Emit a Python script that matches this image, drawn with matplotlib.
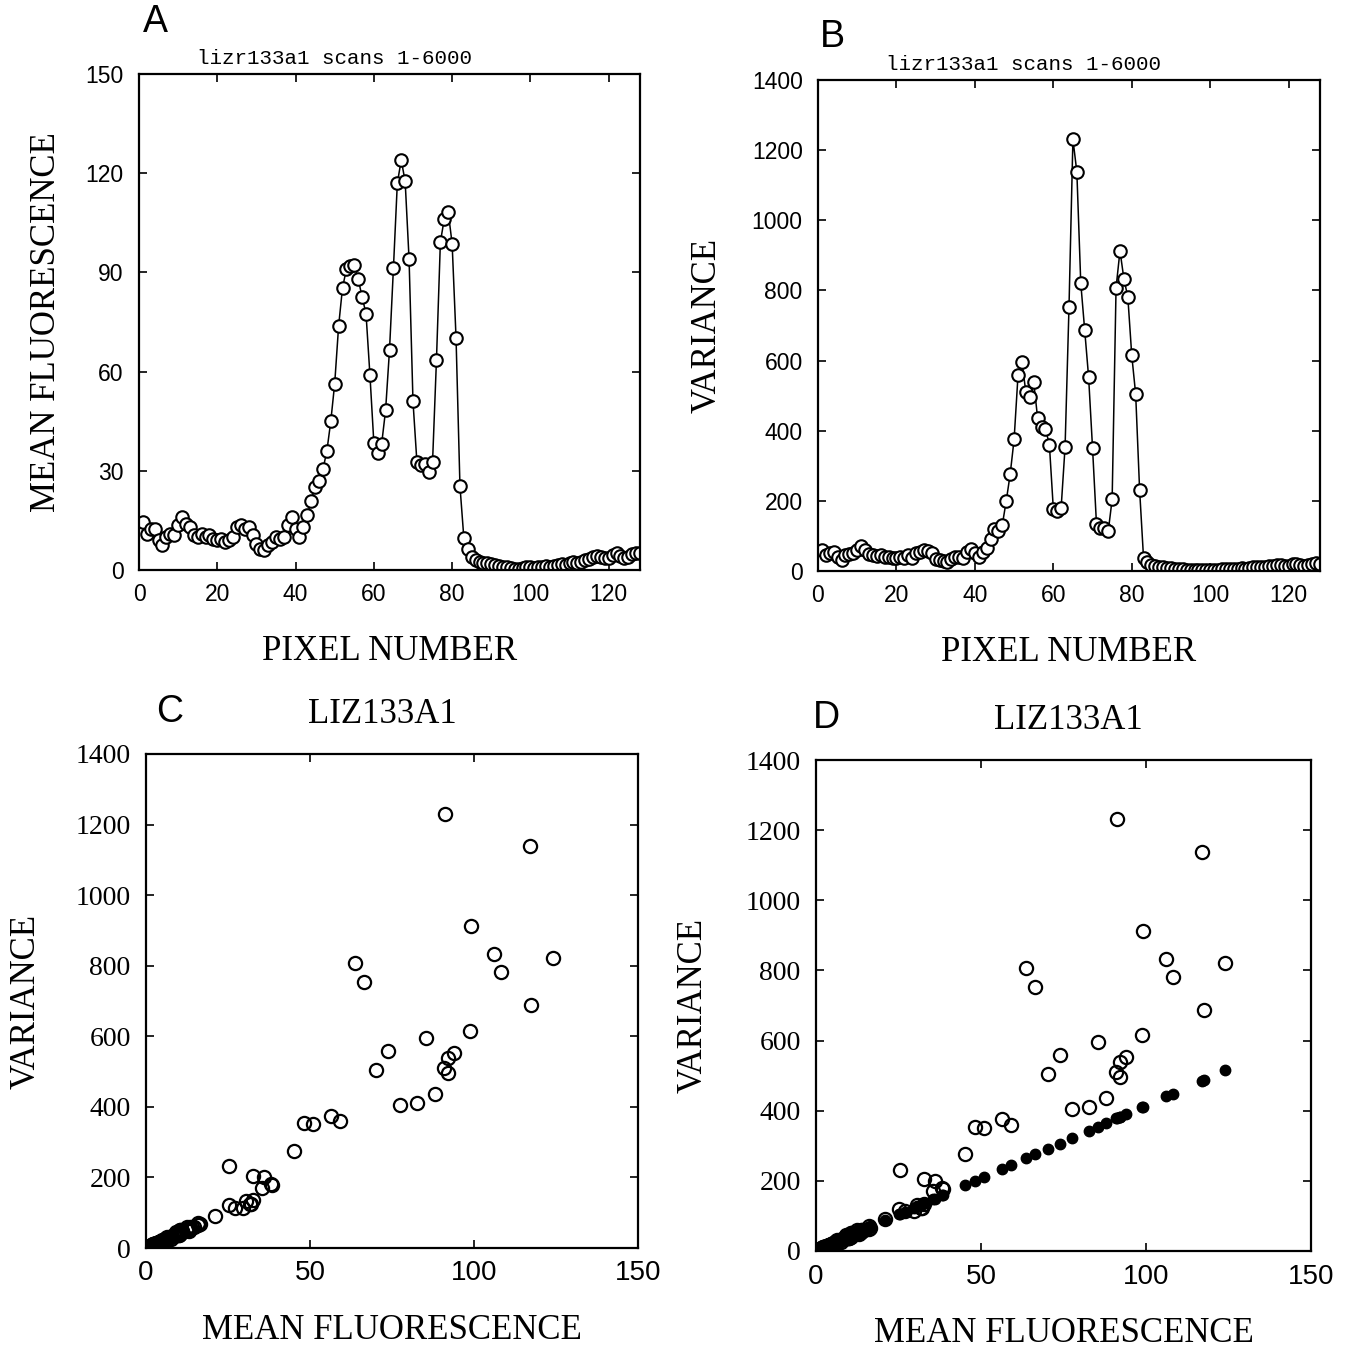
import matplotlib
matplotlib.use('Agg')
import matplotlib.pyplot as plt

# pixel index along the scan line
pixel = list(range(1, 129))

# mean fluorescence per pixel (panel A)
mean_fluor = [
    14.5, 11, 12.5, 12.5, 9, 7.5, 10, 11, 10.5, 13.5,
    16, 14, 13, 10.5, 10, 11, 10, 10.5, 9.5, 9,
    9.5, 8.5, 9, 10, 13, 13.5, 12.5, 13, 10.5, 8,
    6.5, 6, 7.5, 8.5, 10, 9.5, 10, 13.5, 16, 12.5,
    10, 13, 16.5, 21, 25.2, 27, 30.5, 36, 45, 56.4,
    73.8, 85.4, 91, 92, 92.2, 88, 82.6, 77.5, 59, 38.5,
    35.5, 38.2, 48.3, 66.5, 91.2, 117, 124, 117.5, 94, 51,
    32.7, 31.7, 32, 29.7, 32.7, 63.6, 99.2, 106.2, 108.3, 98.7,
    70.2, 25.4, 9.6, 6.3, 4, 3, 2.5, 2.2, 2, 1.8,
    1.5, 1.2, 1, 0.8, 0.5, 0.3, 0.3, 0.5, 0.8, 0.8,
    0.6, 0.8, 1, 1.2, 1, 1.2, 1.5, 1.8, 1.5, 2,
    2.5, 2.2, 2.5, 3, 3.3, 3.8, 4.2, 4, 3.5, 3.5,
    4.5, 5, 4.2, 3.5, 4, 4.8, 5, 5,
]

# variance per pixel (panel B)
variance = [
    59, 45, 50, 54, 40, 30, 45, 49, 52, 59,
    70, 59, 49, 45, 42, 45, 40, 40, 38, 38,
    40, 38, 45, 38, 50, 54, 59, 58, 50, 35,
    30, 28, 25, 35, 40, 40, 38, 55, 64, 50,
    40, 55, 67, 90, 121, 113, 132, 200, 276, 375,
    558, 596, 510, 496, 539, 436, 411, 406, 360, 178,
    170, 181, 354, 753, 1231, 1138, 821, 688, 553, 351,
    135, 124, 124, 113, 204, 808, 913, 833, 781, 615,
    504, 232, 38, 26, 18, 14, 12, 10, 9, 8,
    7, 6, 5, 4, 3, 2, 2, 3, 3, 4,
    3, 4, 5, 5, 5, 6, 7, 8, 7, 9,
    10, 10, 11, 12, 14, 15, 17, 18, 15, 15,
    19, 21, 18, 15, 17, 20, 22, 21,
]

# shot-noise variance expected for each mean (filled dots, panel D)
shot_var = [
    60, 46, 52, 52, 37, 31, 42, 46, 44, 56,
    66, 58, 54, 44, 42, 46, 42, 44, 39, 37,
    39, 35, 37, 42, 54, 56, 52, 54, 44, 33,
    27, 25, 31, 35, 42, 39, 42, 56, 66, 52,
    42, 54, 68, 87, 105, 112, 127, 149, 187, 234,
    306, 354, 378, 382, 383, 365, 343, 322, 245, 160,
    147, 159, 200, 276, 378, 486, 515, 488, 390, 212,
    136, 132, 133, 123, 136, 264, 412, 441, 449, 410,
    291, 105, 40, 26, 17, 12, 10, 9, 8, 7,
    6, 5, 4, 3, 2, 1, 1, 2, 3, 3,
    2, 3, 4, 5, 4, 5, 6, 7, 6, 8,
    10, 9, 10, 12, 14, 16, 17, 17, 15, 15,
    19, 21, 17, 15, 17, 20, 21, 21,
]

title_ab = 'lizr133a1 scans 1-6000'
title_cd = 'LIZ133A1'

SERIF = 'Liberation Serif'
SANS = 'Liberation Sans'
MONO = 'Liberation Mono'

plt.rcParams['axes.linewidth'] = 1.6
plt.rcParams['xtick.direction'] = 'in'
plt.rcParams['ytick.direction'] = 'in'
plt.rcParams['xtick.major.width'] = 1.2
plt.rcParams['ytick.major.width'] = 1.2
plt.rcParams['xtick.major.size'] = 6
plt.rcParams['ytick.major.size'] = 6

fig = plt.figure(figsize=(13.57, 13.5), dpi=100)
W, H = 1357.0, 1350.0


def make_axes(left, right, top, bottom):
    # pixel box -> figure fraction
    return fig.add_axes([left / W, 1 - bottom / H, (right - left) / W, (bottom - top) / H])


def style_ticks(ax, xsize, ysize, yfamily):
    ax.tick_params(top=True, right=True, labeltop=False, labelright=False)
    ax.tick_params(axis='x', pad=9)
    ax.tick_params(axis='y', pad=11)
    for lab in ax.get_xticklabels():
        lab.set_fontfamily(SANS)
        lab.set_fontsize(xsize)
    for lab in ax.get_yticklabels():
        lab.set_fontfamily(yfamily)
        lab.set_fontsize(ysize)


circle = dict(marker='o', markersize=9, markerfacecolor='white',
              markeredgecolor='black', markeredgewidth=1.5)

# ---- panel A: mean fluorescence vs pixel
axA = make_axes(139, 640, 74, 570)
axA.plot(pixel, mean_fluor, color='black', linewidth=1.1, **circle)
axA.set_xlim(0, 128)
axA.set_ylim(0, 150)
axA.set_xticks([0, 20, 40, 60, 80, 100, 120])
axA.set_yticks([0, 30, 60, 90, 120, 150])
style_ticks(axA, 16.5, 16.5, SANS)
axA.set_xlabel('PIXEL NUMBER', fontfamily=SERIF, fontsize=25, labelpad=21)
axA.set_ylabel('MEAN FLUORESCENCE', fontfamily=SERIF, fontsize=25, labelpad=16)
axA.set_title(title_ab, fontfamily=MONO, fontsize=15, pad=7, x=0.39)
fig.text(155 / W, 1 - 22 / H, 'A', fontfamily=SANS, fontsize=27, ha='center', va='center')

# ---- panel B: variance vs pixel
axB = make_axes(818, 1320, 80, 571)
axB.plot(pixel, variance, color='black', linewidth=1.1, **circle)
axB.set_xlim(0, 128)
axB.set_ylim(0, 1400)
axB.set_xticks([0, 20, 40, 60, 80, 100, 120])
axB.set_yticks([0, 200, 400, 600, 800, 1000, 1200, 1400])
style_ticks(axB, 16.5, 16.5, SANS)
axB.set_xlabel('PIXEL NUMBER', fontfamily=SERIF, fontsize=25, labelpad=21)
axB.set_ylabel('VARIANCE', fontfamily=SERIF, fontsize=25, labelpad=20)
axB.set_title(title_ab, fontfamily=MONO, fontsize=15, pad=7, x=0.41)
fig.text(832 / W, 1 - 37 / H, 'B', fontfamily=SANS, fontsize=27, ha='center', va='center')

# ---- panel C: variance vs mean
axC = make_axes(146, 638, 754, 1248)
axC.plot(mean_fluor, variance, linestyle='none', marker='o', markersize=9.5,
         markerfacecolor='none', markeredgecolor='black', markeredgewidth=1.6)
axC.set_xlim(0, 150)
axC.set_ylim(0, 1400)
axC.set_xticks([0, 50, 100, 150])
axC.set_yticks([0, 200, 400, 600, 800, 1000, 1200, 1400])
style_ticks(axC, 20, 20, SERIF)
axC.set_xlabel('MEAN FLUORESCENCE', fontfamily=SERIF, fontsize=25, labelpad=20)
axC.set_ylabel('VARIANCE', fontfamily=SERIF, fontsize=25, labelpad=24)
axC.set_title(title_cd, fontfamily=SERIF, fontsize=25, pad=22, x=0.48)
fig.text(170 / W, 1 - 712 / H, 'C', fontfamily=SANS, fontsize=27, ha='center', va='center')

# ---- panel D: variance vs mean with shot-noise expectation
axD = make_axes(816, 1311, 760, 1251)
axD.plot(mean_fluor, shot_var, linestyle='none', marker='o', markersize=7.5,
         markerfacecolor='black', markeredgecolor='black')
axD.plot(mean_fluor, variance, linestyle='none', marker='o', markersize=9.5,
         markerfacecolor='none', markeredgecolor='black', markeredgewidth=1.6)
axD.set_xlim(0, 150)
axD.set_ylim(0, 1400)
axD.set_xticks([0, 50, 100, 150])
axD.set_yticks([0, 200, 400, 600, 800, 1000, 1200, 1400])
style_ticks(axD, 20, 20, SERIF)
axD.set_xlabel('MEAN FLUORESCENCE', fontfamily=SERIF, fontsize=25, labelpad=20)
axD.set_ylabel('VARIANCE', fontfamily=SERIF, fontsize=25, labelpad=26)
axD.set_title(title_cd, fontfamily=SERIF, fontsize=25, pad=22, x=0.51)
fig.text(826 / W, 1 - 718 / H, 'D', fontfamily=SANS, fontsize=27, ha='center', va='center')

plt.savefig('out.png', dpi=100)
plt.close()
